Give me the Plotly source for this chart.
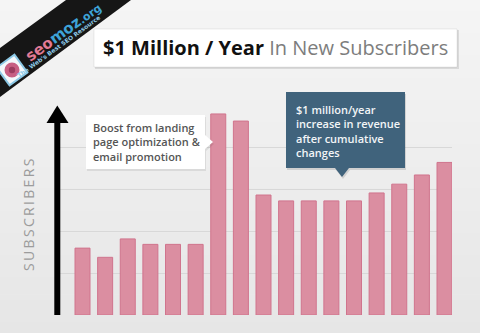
import math
import plotly.graph_objects as go

W, H = 480, 333

# Monthly periods and new-subscriber index (arbitrary units, grid step = 10)
periods = list(range(1, 18))
subscribers = [16.0, 13.8, 18.2, 16.9, 16.9, 16.9, 48.1, 46.4, 28.7,
               27.3, 27.3, 27.3, 27.3, 29.2, 31.3, 33.5, 36.5]
grid_ticks = [10, 20, 30, 40, 50]

title_main = "$1 Million / Year"
title_sub = "In New Subscribers"
axis_title = "SUBSCRIBERS"
note_boost = ["Boost from landing", "page optimization &", "email promotion"]
note_revenue = ["$1 million/year", "increase in revenue", "after cumulative", "changes"]


def px(x, y):
    """Pixel position -> paper coordinates."""
    return x / W, 1 - y / H


def path(points):
    parts = []
    for i, (x, y) in enumerate(points):
        a, b = px(x, y)
        parts.append(("M" if i == 0 else "L") + f"{a:.5f},{b:.5f}")
    return " ".join(parts) + " Z"


def rect(x0, y0, x1, y1, **kw):
    a0, b0 = px(x0, y1)
    a1, b1 = px(x1, y0)
    d = dict(type="rect", xref="paper", yref="paper", x0=a0, y0=b0, x1=a1, y1=b1)
    d.update(kw)
    return d


shapes = []

# soft vertical background gradient
n = 60
for k in range(n):
    t = k / (n - 1)
    c = round(245 + (230 - 245) * t)
    shapes.append(dict(type="rect", xref="paper", yref="paper", x0=0, x1=1,
                       y0=1 - (k + 1) / n - 0.002, y1=1 - k / n,
                       fillcolor=f"rgb({c},{c},{c})", line_width=0, layer="below"))

# corner ribbon
shapes.append(dict(type="path", xref="paper", yref="paper",
                   path=path([(0, 48), (66, 0), (131, 0), (0, 97)]),
                   fillcolor="#161616", line_width=0, layer="above"))
# logo badge on the ribbon
ang = math.radians(-36)
cx, cy, s = 12, 70, 11
sq = []
for dx, dy in [(-s, -s), (s, -s), (s, s), (-s, s)]:
    sq.append((cx + dx * math.cos(ang) - dy * math.sin(ang),
               cy + dx * math.sin(ang) + dy * math.cos(ang)))
shapes.append(dict(type="path", xref="paper", yref="paper", path=path(sq),
                   fillcolor="#f4f8fb", line=dict(color="#8cc9e6", width=2), layer="above"))
for r, col in [(7.5, "#c75f83"), (3.2, "#9c3c60")]:
    a0, b0 = px(cx - r, cy + r)
    a1, b1 = px(cx + r, cy - r)
    shapes.append(dict(type="circle", xref="paper", yref="paper", x0=a0, y0=b0, x1=a1, y1=b1,
                       fillcolor=col, line_width=0, layer="above"))

# title box with shadow
shapes.append(rect(95, 30, 459, 69, fillcolor="rgba(0,0,0,0.10)", line_width=0, layer="above"))
shapes.append(rect(94, 29, 457, 67, fillcolor="#ffffff",
                   line=dict(color="rgba(0,0,0,0.07)", width=1), layer="above"))

# y axis arrow
shapes.append(rect(54.3, 120, 60.3, 315, fillcolor="#000000", line_width=0, layer="above"))
shapes.append(dict(type="path", xref="paper", yref="paper",
                   path=path([(46.5, 123), (68.5, 123), (57.3, 105.5)]),
                   fillcolor="#000000", line_width=0, layer="above"))

# white callout
boost_pts = [(86, 115), (205, 115), (205, 135), (213, 142), (205, 149), (205, 169), (86, 169)]
shapes.append(dict(type="path", xref="paper", yref="paper",
                   path=path([(x + 1, y + 2) for x, y in boost_pts]),
                   fillcolor="rgba(0,0,0,0.08)", line_width=0, layer="above"))
shapes.append(dict(type="path", xref="paper", yref="paper", path=path(boost_pts),
                   fillcolor="#ffffff", line_width=0, layer="above"))

# dark callout
rev_pts = [(286, 92), (405, 92), (405, 168), (349, 168), (342, 177), (335, 168), (286, 168)]
shapes.append(dict(type="path", xref="paper", yref="paper",
                   path=path([(x + 1, y + 2) for x, y in rev_pts]),
                   fillcolor="rgba(0,0,0,0.12)", line_width=0, layer="above"))
shapes.append(dict(type="path", xref="paper", yref="paper", path=path(rev_pts),
                   fillcolor="#40637c", line_width=0, layer="above"))

fig = go.Figure()
fig.add_trace(go.Bar(
    x=periods, y=subscribers, width=0.663,
    marker=dict(color="#db8ea1", line=dict(color="#d0748d", width=1)),
    hoverinfo="skip",
))

annotations = []
tx, ty = px(275.5, 48)
annotations.append(dict(
    xref="paper", yref="paper", x=tx, y=ty, xanchor="center", yanchor="middle",
    text=f"<b>{title_main}</b> <span style='color:#7d7d7d'>{title_sub}</span>",
    font=dict(family="Open Sans", size=20, color="#111111"), showarrow=False))

ax_, ay_ = px(28, 215)
annotations.append(dict(
    xref="paper", yref="paper", x=ax_, y=ay_, xanchor="center", yanchor="middle",
    text="\u2009".join(axis_title), textangle=-90,
    font=dict(family="Open Sans", size=14, color="#9c9c9c"), showarrow=False))

bx, by = px(91, 142)
annotations.append(dict(
    xref="paper", yref="paper", x=bx, y=by, xanchor="left", yanchor="middle", align="left",
    text="<br>".join(note_boost),
    font=dict(family="Open Sans", size=11, color="#555555", weight=600), showarrow=False))

rx, ry = px(294, 130.5)
annotations.append(dict(
    xref="paper", yref="paper", x=rx, y=ry, xanchor="left", yanchor="middle", align="left",
    text="<br>".join(note_revenue),
    font=dict(family="Open Sans", size=11, color="#f2f5f7", weight=600), showarrow=False))

# ribbon wordmark
lx, ly = px(63, 32)
annotations.append(dict(
    xref="paper", yref="paper", x=lx, y=ly, xanchor="center", yanchor="middle",
    text="<span style='color:#e27a95'>seo</span><span style='color:#3ea3d8'>moz</span>"
         "<span style='color:#3ea3d8;font-size:11px'>.org</span>",
    textangle=-36, font=dict(family="DejaVu Sans", size=15, weight="bold"), showarrow=False))
gx, gy = px(58, 46)
annotations.append(dict(
    xref="paper", yref="paper", x=gx, y=gy, xanchor="center", yanchor="middle",
    text="The Web's Best SEO Resource", textangle=-36,
    font=dict(family="DejaVu Sans", size=6, color="#8fcbe8", weight="bold"), showarrow=False))

fig.update_layout(
    width=W, height=H, margin=dict(l=0, r=0, t=0, b=0),
    paper_bgcolor="#ededed", plot_bgcolor="rgba(0,0,0,0)",
    showlegend=False, shapes=shapes, annotations=annotations,
    xaxis=dict(domain=[60 / W, 452 / W], range=[0.0055, 17.3315], visible=False, fixedrange=True),
    yaxis=dict(domain=[18 / H, 227 / H], range=[0, 50], tickvals=grid_ticks,
               showticklabels=False, showgrid=True, gridcolor="#d8d8d8", gridwidth=1,
               zeroline=False, showline=False, ticks="", fixedrange=True),
)

fig.write_html("out.html")
